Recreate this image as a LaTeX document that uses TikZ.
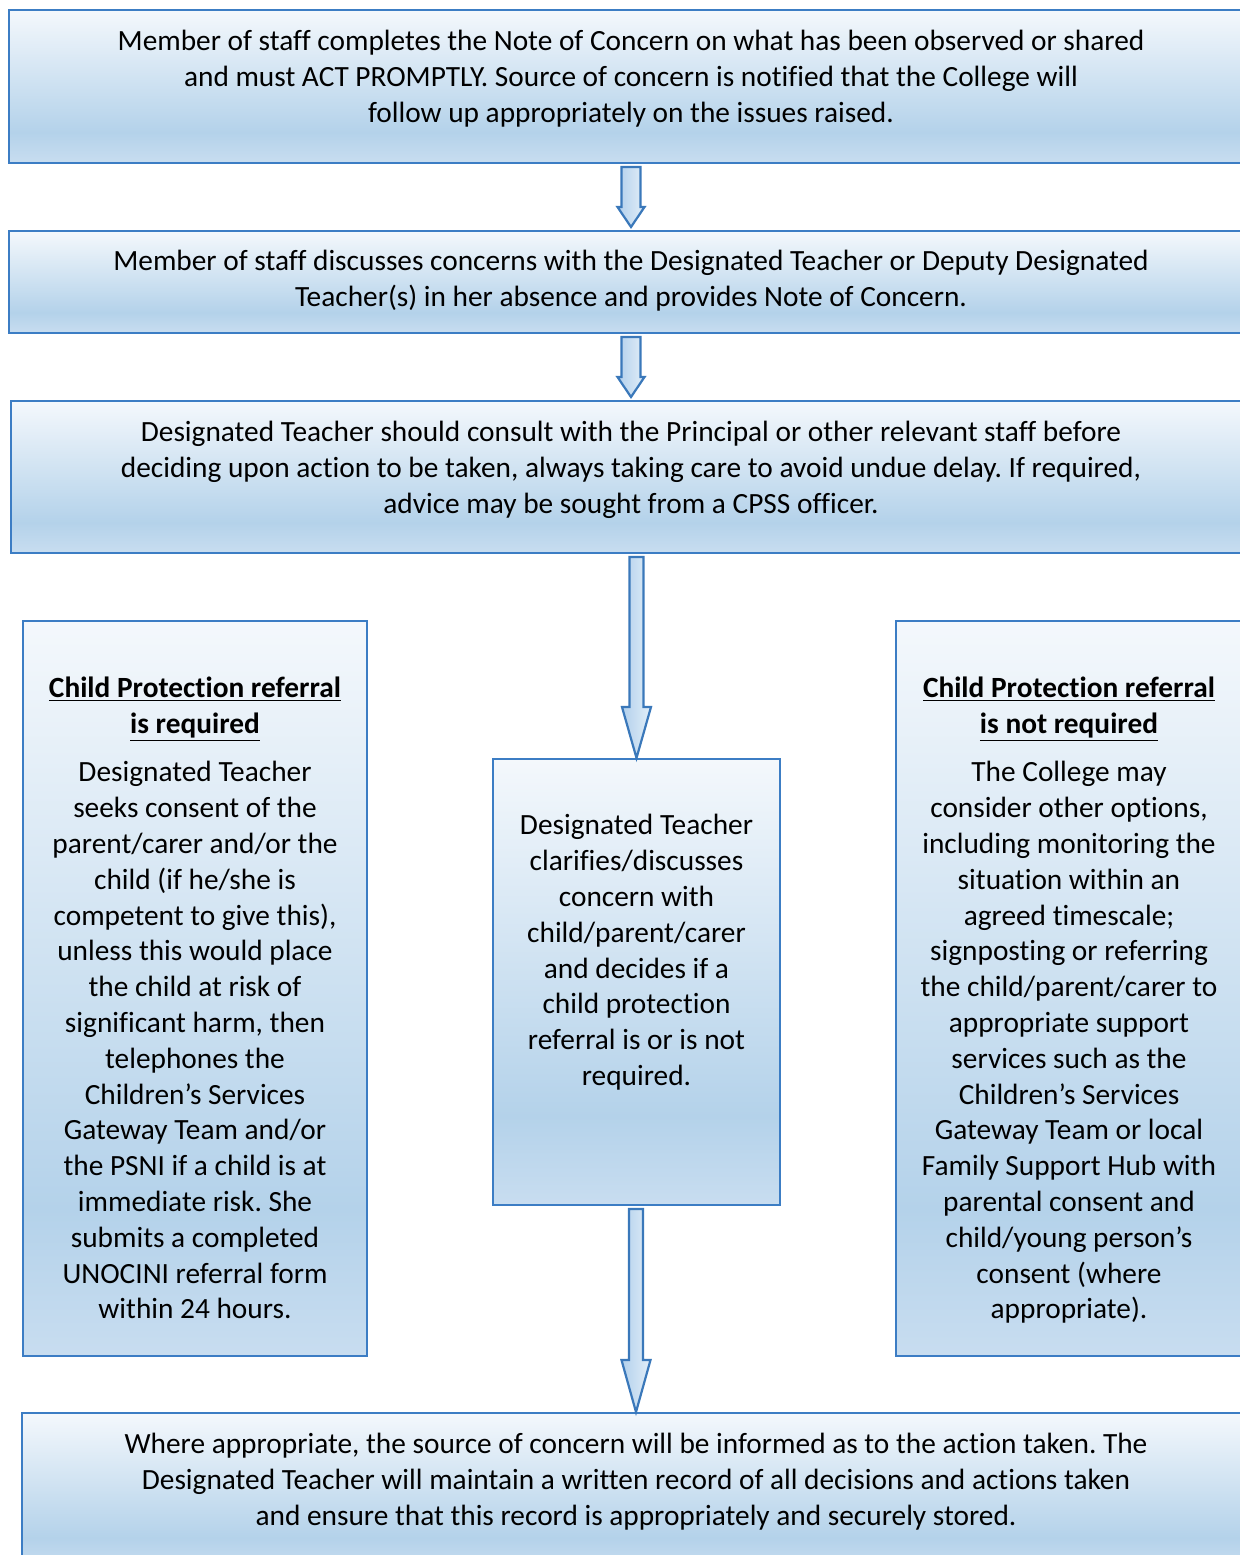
\documentclass[tikz,border=0pt]{standalone}
\usepackage{fontspec}
\setmainfont{Carlito}[Ligatures=NoCommon]
\usepackage{tikz}
\usetikzlibrary{positioning, calc}
\definecolor{boxline}{HTML}{3C7DC4}
\definecolor{arrowline}{HTML}{3A78BA}
\definecolor{shadetop}{HTML}{F4F8FC}
\definecolor{shademid}{HTML}{B4D2EA}
\definecolor{shadebot}{HTML}{C8DDF0}
\definecolor{arrowdark}{HTML}{B2D0EC}
\definecolor{arrowlight}{HTML}{E2EEF8}
\pgfdeclareverticalshading{boxfill}{100bp}{color(0bp)=(shadebot); color(25bp)=(shadebot); color(35bp)=(shademid); color(75bp)=(shadetop); color(100bp)=(shadetop)}
\newcommand{\flowfont}{\fontsize{14.67pt}{17.9pt}\selectfont\frenchspacing}
\newcommand{\headline}[1]{\underline{\textbf{#1}}}
% block arrow: from, to, shaft half width, head half width, head length, tip gap
\newcommand{\flowarrow}[6]{%
  \path[blockarrow] let \p1=(#1.south), \p2=(#2.north) in
    (\x2-#3,\y1-2pt) -- (\x2+#3,\y1-2pt) -- (\x2+#3,\y2+#6+#5) -- (\x2+#4,\y2+#6+#5)
    -- (\x2,\y2+#6) -- (\x2-#4,\y2+#6+#5) -- (\x2-#3,\y2+#6+#5) -- cycle;}
\tikzset{
  flowbox/.style={draw=boxline, line width=1.2pt, shading=boxfill, inner sep=0pt, outer sep=0pt, anchor=north west},
  flowtext/.style={align=center, inner sep=0pt, font=\flowfont},
  blockarrow/.style={draw=arrowline, line width=1.1pt, left color=arrowdark, right color=arrowlight, line join=miter}
}
\begin{document}
\begin{tikzpicture}[x=0.5pt, y=-0.5pt]
  \useasboundingbox (0,0) rectangle (1239,1555);
  % boxes
  \node[flowbox, minimum width=622pt, minimum height=76.5pt] (note) at (9,10) {};
  \node[flowbox, minimum width=622pt, minimum height=51pt] (discuss) at (9,231) {};
  \node[flowbox, minimum width=620pt, minimum height=76pt] (consult) at (11,401) {};
  \node[flowbox, minimum width=172pt, minimum height=367.5pt] (required) at (23,621) {};
  \node[flowbox, minimum width=143.5pt, minimum height=223pt] (clarify) at (493,759) {};
  \node[flowbox, minimum width=173pt, minimum height=367.5pt] (notrequired) at (896,621) {};
  \node[flowbox, minimum width=614pt, minimum height=78pt] (record) at (22,1413) {};
  % texts
  \node[flowtext, below=7.7pt of note.north] (notetext) {\strut Member of staff completes the Note of Concern on what has been observed or shared\\
    and must ACT PROMPTLY. Source of concern is notified that the College will\\
    follow up appropriately on the issues raised.};
  \node[flowtext, below=7.2pt of discuss.north] (discusstext) {\strut Member of staff discusses concerns with the Designated Teacher or Deputy Designated\\
    Teacher(s) in her absence and provides Note of Concern.};
  \node[flowtext, below=7.7pt of consult.north] (consulttext) {\strut Designated Teacher should consult with the Principal or other relevant staff before\\
    deciding upon action to be taken, always taking care to avoid undue delay. If required,\\
    advice may be sought from a CPSS officer.};
  \node[flowtext, below=25.4pt of required.north] (requiredtext) {\strut\headline{Child Protection referral}\\
    \headline{is required}\\[6.5pt]
    Designated Teacher\\ seeks consent of the\\ parent/carer and/or the\\ child (if he/she is\\
    competent to give this),\\ unless this would place\\ the child at risk of\\ significant harm, then\\
    telephones the\\ Children’s Services\\ Gateway Team and/or\\ the PSNI if a child is at\\
    immediate risk. She\\ submits a completed\\ UNOCINI referral form\\ within 24 hours.};
  \node[flowtext, below=25.2pt of clarify.north] (clarifytext) {\strut Designated Teacher\\ clarifies/discusses\\ concern with\\
    child/parent/carer\\ and decides if a\\ child protection\\ referral is or is not\\ required.};
  \node[flowtext, below=25.4pt of notrequired.north] (notrequiredtext) {\strut\headline{Child Protection referral}\\
    \headline{is not required}\\[6.5pt]
    The College may\\ consider other options,\\ including monitoring the\\ situation within an\\
    agreed timescale;\\ signposting or referring\\ the child/parent/carer to\\ appropriate support\\
    services such as the\\ Children’s Services\\ Gateway Team or local\\ Family Support Hub with\\
    parental consent and\\ child/young person’s\\ consent (where\\ appropriate).};
  \node[flowtext, below=7.7pt of record.north] (recordtext) {\strut Where appropriate, the source of concern will be informed as to the action taken. The\\
    Designated Teacher will maintain a written record of all decisions and actions taken\\
    and ensure that this record is appropriately and securely stored.};
  % arrows
  \flowarrow{note}{discuss}{4.75pt}{6.75pt}{10pt}{2pt}
  \flowarrow{discuss}{consult}{4.75pt}{6.75pt}{10pt}{2pt}
  \flowarrow{consult}{clarify}{3.5pt}{7.25pt}{25.5pt}{0.5pt}
  \flowarrow{clarify}{record}{3.5pt}{7.25pt}{26pt}{0.5pt}
\end{tikzpicture}
\end{document}
